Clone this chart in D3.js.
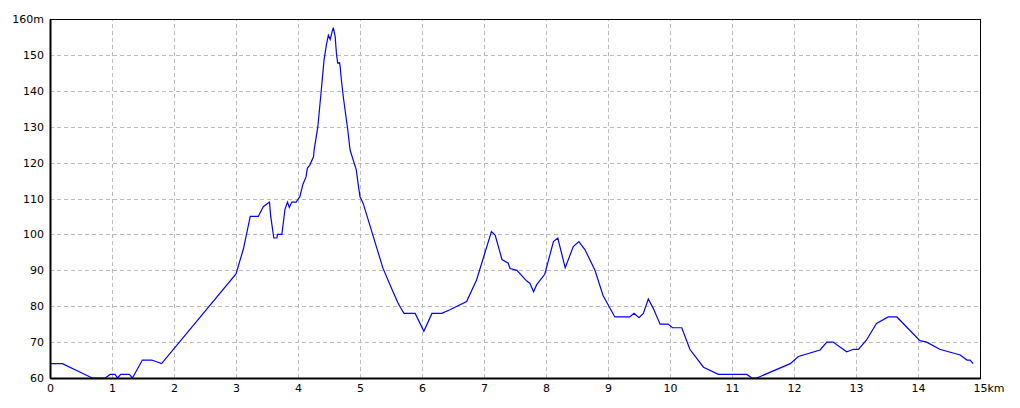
<!DOCTYPE html>
<html>
<head>
<meta charset="utf-8">
<script src="https://cdn.jsdelivr.net/npm/d3@7"></script>
<style>
  body { margin: 0; background: #fff; }
  text { font-family: "DejaVu Sans", sans-serif; font-size: 11px; fill: #000; }
</style>
</head>
<body>
<div id="chart"></div>
<script>
// distance (km) and elevation (m) read from the profile
var dist = [0, 0.2, 0.68, 0.89, 0.97, 1.05, 1.09, 1.14, 1.28, 1.33, 1.49, 1.64, 1.8,
  3.0, 3.12, 3.23, 3.36, 3.44, 3.54, 3.56, 3.61, 3.66, 3.67, 3.74, 3.79, 3.83, 3.86, 3.9, 3.97,
  4.03, 4.08, 4.13, 4.15, 4.19, 4.25, 4.26, 4.32, 4.38, 4.42, 4.46, 4.49, 4.52, 4.55, 4.57,
  4.6, 4.62, 4.64, 4.67, 4.68, 4.7, 4.73, 4.78, 4.8, 4.84, 4.94, 4.97, 5.0, 5.05, 5.28,
  5.37, 5.52, 5.61, 5.65, 5.71, 5.89, 6.03, 6.16, 6.32, 6.45, 6.72, 6.88, 7.12, 7.18, 7.29,
  7.39, 7.42, 7.53, 7.69, 7.74, 7.8, 7.85, 7.98, 8.12, 8.19, 8.31, 8.44, 8.53, 8.63, 8.79,
  8.92, 9.11, 9.35, 9.42, 9.5, 9.57, 9.65, 9.73, 9.84, 9.97, 10.04, 10.19, 10.32, 10.54,
  10.78, 11.24, 11.32, 11.4, 11.94, 12.07, 12.42, 12.53, 12.63, 12.85, 12.96, 13.04, 13.17,
  13.33, 13.52, 13.66, 14.03, 14.14, 14.35, 14.68, 14.79, 14.84, 14.89];
var elev = [64, 64, 60, 60, 61, 61, 60, 61, 61, 60, 65, 65, 64,
  89, 96, 105, 105, 107.7, 109, 105, 99, 99, 100, 100, 107, 109, 107.5, 109, 109,
  110.5, 114, 116, 118.4, 119.3, 121.6, 123.5, 130, 141, 148.6, 153, 155.5, 154.3, 156.5, 157.6,
  155, 150.4, 147.7, 147.8, 146.7, 143, 138.4, 132, 129.5, 123.5, 118, 114, 110.5, 108.7, 95.7,
  90.6, 84.5, 81, 79.7, 78, 78, 73, 78, 78, 79, 81.3, 87.3, 100.8, 99.8, 93,
  92, 90.5, 90, 87, 86.4, 84, 86, 88.9, 98, 99, 90.7, 96.6, 98, 95.7, 90,
  83, 77, 77, 78, 76.8, 78, 82, 79.4, 75, 75, 74, 74, 68, 63,
  61, 61, 60, 60, 64, 66, 67.8, 70, 70, 67.3, 68, 68, 70.6,
  75.2, 77, 77, 70.4, 70, 68, 66.4, 65, 65, 64];
var xTicks = d3.range(0, 16);
var yTicks = d3.range(60, 161, 10);

var margin = {top: 19, right: 40, bottom: 30, left: 50};
var width = 1020 - margin.left - margin.right;
var height = 408 - margin.top - margin.bottom;

var svg = d3.select("#chart")
  .append("svg")
    .attr("width", 1020)
    .attr("height", 408)
  .append("g")
    .attr("transform", "translate(" + margin.left + "," + margin.top + ")");

var x = d3.scaleLinear().domain([0, 15]).range([0, width]);
var y = d3.scaleLinear().domain([60, 160]).range([height, 0]);

// grid
svg.append("g")
  .attr("transform", "translate(0," + height + ")")
  .call(d3.axisBottom(x).tickValues(xTicks.slice(1, -1)).tickSize(-height).tickFormat(""))
  .call(function(g) { g.select(".domain").remove(); })
  .selectAll("line")
    .attr("stroke", "#bbb")
    .attr("stroke-dasharray", "4,3")
    .attr("shape-rendering", "crispEdges");

svg.append("g")
  .call(d3.axisLeft(y).tickValues(yTicks.slice(1, -1)).tickSize(-width).tickFormat(""))
  .call(function(g) { g.select(".domain").remove(); })
  .selectAll("line")
    .attr("stroke", "#bbb")
    .attr("stroke-dasharray", "4,3")
    .attr("shape-rendering", "crispEdges");

// frame
svg.append("rect")
  .attr("width", width)
  .attr("height", height)
  .attr("fill", "none")
  .attr("stroke", "#000")
  .attr("shape-rendering", "crispEdges");

// profile line
var points = dist.map(function(d, i) { return [d, elev[i]]; });
svg.append("path")
  .datum(points)
  .attr("fill", "none")
  .attr("stroke", "#0000ff")
  .attr("stroke-width", 1.2)
  .attr("d", d3.line()
    .x(function(d) { return x(d[0]); })
    .y(function(d) { return y(d[1]); }));

// axes
var xAxis = svg.append("g")
  .attr("transform", "translate(0," + height + ")")
  .call(d3.axisBottom(x).tickValues(xTicks).tickSize(0).tickPadding(6)
    .tickFormat(function(d) { return d === 15 ? "15km" : d; }));
xAxis.select(".domain").attr("stroke-width", 2);
xAxis.selectAll("text")
  .style("font-size", "11px")
  .filter(function(d) { return d === 15; })
    .attr("text-anchor", "start")
    .attr("dx", "-7");

var yAxis = svg.append("g")
  .call(d3.axisLeft(y).tickValues(yTicks).tickSize(0).tickPadding(6)
    .tickFormat(function(d) { return d === 160 ? "160m" : d; }));
yAxis.select(".domain").attr("stroke-width", 2);
yAxis.selectAll("text").style("font-size", "11px");
</script>
</body>
</html>
